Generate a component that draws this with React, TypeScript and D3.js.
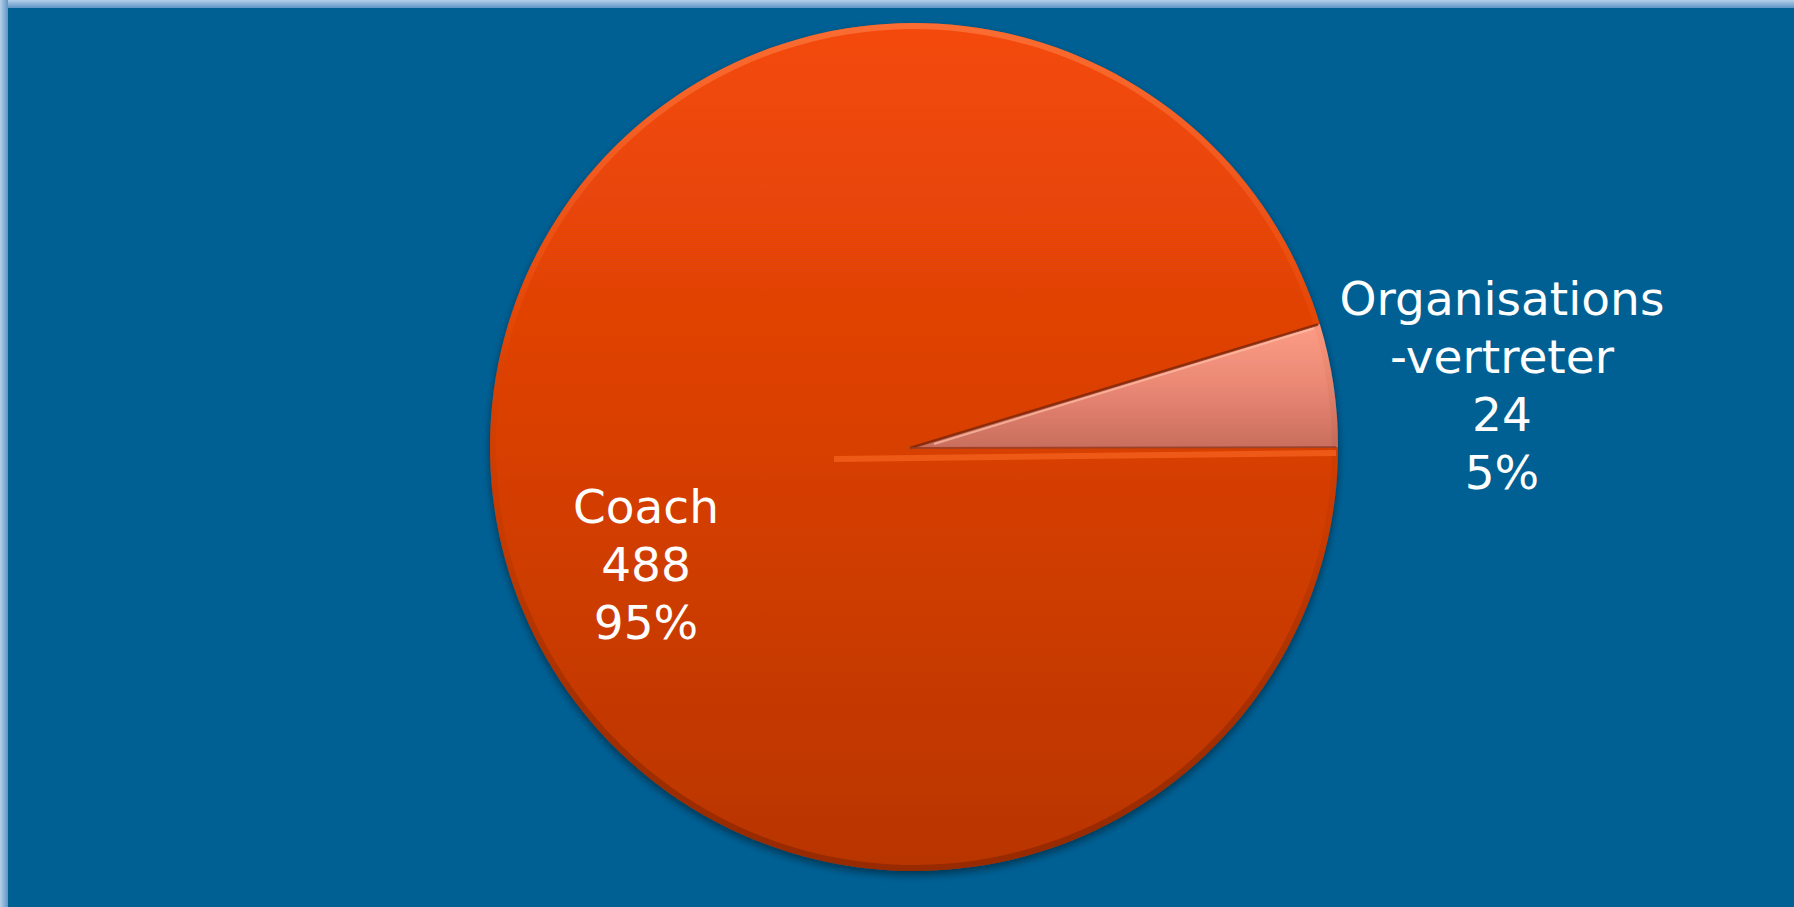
import React from "react";
import * as d3 from "d3";

const categories = ["Organisations-vertreter", "Coach"];
const labelLines = [["Organisations", "-vertreter"], ["Coach"]];
const values = [24, 488];
const percents = ["5%", "95%"];

const W = 1794;
const H = 907;
const cx = 914;
const cy = 447;
const R = 424;

export default function App() {
  const total = d3.sum(values);
  const start = Math.PI / 2 - (2 * Math.PI * values[0]) / total;
  const pie = d3
    .pie<number>()
    .sort(null)
    .startAngle(start)
    .endAngle(start + 2 * Math.PI)
    .value((d) => d);
  const arcs = pie(values);
  const arc = d3.arc<d3.PieArcDatum<number>>().innerRadius(0).outerRadius(R);
  const rim = d3.arc<d3.PieArcDatum<number>>().innerRadius(R - 6).outerRadius(R);

  const fills = ["url(#gOrg)", "url(#gCoach)"];
  const labelPos = [
    { x: 1502, y: 315 },
    { x: 646, y: 523 },
  ];
  const lh = 58;

  const a0 = arcs[0].startAngle;
  const a1 = arcs[0].endAngle;
  const pt = (a: number, r: number) => [cx + r * Math.sin(a), cy - r * Math.cos(a)];
  const [ux, uy] = pt(a0, R - 2);
  const [lx, ly] = pt(a1, R - 2);

  return (
    <svg
      width={W}
      height={H}
      style={{ position: "absolute", left: 0, top: 0, display: "block" }}
      fontFamily="'DejaVu Sans', Verdana, sans-serif"
    >
      <defs>
        <linearGradient id="gCoach" gradientUnits="userSpaceOnUse" x1="0" y1={-R} x2="0" y2={R}>
          <stop offset="0" stopColor="#F44A08" />
          <stop offset="0.5" stopColor="#D83F05" />
          <stop offset="1" stopColor="#B83503" />
        </linearGradient>
        <linearGradient id="gOrg" x1="0" y1="0" x2="0" y2="1">
          <stop offset="0" stopColor="#FC9C86" />
          <stop offset="0.5" stopColor="#EA8874" />
          <stop offset="1" stopColor="#CA6E5E" />
        </linearGradient>
        <linearGradient id="gRim" gradientUnits="userSpaceOnUse" x1="0" y1={-R} x2="0" y2={R}>
          <stop offset="0" stopColor="#FF8A50" stopOpacity="0.55" />
          <stop offset="0.35" stopColor="#FF7030" stopOpacity="0.12" />
          <stop offset="0.6" stopColor="#000" stopOpacity="0.04" />
          <stop offset="1" stopColor="#5A1600" stopOpacity="0.35" />
        </linearGradient>
        <linearGradient id="gTop" x1="0" y1="0" x2="0" y2="1">
          <stop offset="0" stopColor="#B5D0EA" />
          <stop offset="1" stopColor="#5F95C6" />
        </linearGradient>
        <linearGradient id="gLeft" x1="0" y1="0" x2="1" y2="0">
          <stop offset="0" stopColor="#B5D0EA" />
          <stop offset="1" stopColor="#5F95C6" />
        </linearGradient>
        <filter id="shadow" x="-10%" y="-10%" width="120%" height="120%">
          <feGaussianBlur in="SourceAlpha" stdDeviation="4" />
          <feOffset dx="0" dy="4" result="b" />
          <feComponentTransfer>
            <feFuncA type="linear" slope="0.45" />
          </feComponentTransfer>
          <feMerge>
            <feMergeNode />
            <feMergeNode in="SourceGraphic" />
          </feMerge>
        </filter>
      </defs>

      <rect x={0} y={0} width={W} height={H} fill="#006094" />
      <rect x={0} y={0} width={W} height={8} fill="url(#gTop)" />
      <rect x={0} y={0} width={8} height={H} fill="url(#gLeft)" />

      <g filter="url(#shadow)">
        {arcs.map((d, i) => (
          <path
            key={categories[i]}
            d={arc(d) || ""}
            transform={`translate(${cx},${cy})`}
            fill={fills[i]}
          />
        ))}
      </g>
      {arcs.map((d, i) => (
        <path
          key={"rim" + i}
          d={rim(d) || ""}
          transform={`translate(${cx},${cy})`}
          fill="url(#gRim)"
        />
      ))}
      <line x1={cx - 4} y1={cy + 1} x2={ux} y2={uy} stroke="#7A2408" strokeWidth={2.5} strokeOpacity={0.8} />
      <line x1={cx + 20} y1={cy - 3} x2={ux - 4} y2={uy + 4} stroke="#FFC2A8" strokeWidth={2} strokeOpacity={0.7} />
      <line x1={cx - 4} y1={cy + 1} x2={lx} y2={ly} stroke="#8A4030" strokeWidth={2} strokeOpacity={0.7} />
      <line x1={cx - 80} y1={cy + 12} x2={lx} y2={ly + 6} stroke="#FF6A28" strokeWidth={6} strokeOpacity={0.6} />

      {arcs.map((d, i) => {
        const lines = [...labelLines[i], String(values[i]), percents[i]];
        return (
          <text
            key={"lab" + i}
            x={labelPos[i].x}
            y={labelPos[i].y}
            fill="#FFFFFF"
            fontSize={47}
            textAnchor="middle"
          >
            {lines.map((t, j) => (
              <tspan key={j} x={labelPos[i].x} y={labelPos[i].y + j * lh}>
                {t}
              </tspan>
            ))}
          </text>
        );
      })}
    </svg>
  );
}
